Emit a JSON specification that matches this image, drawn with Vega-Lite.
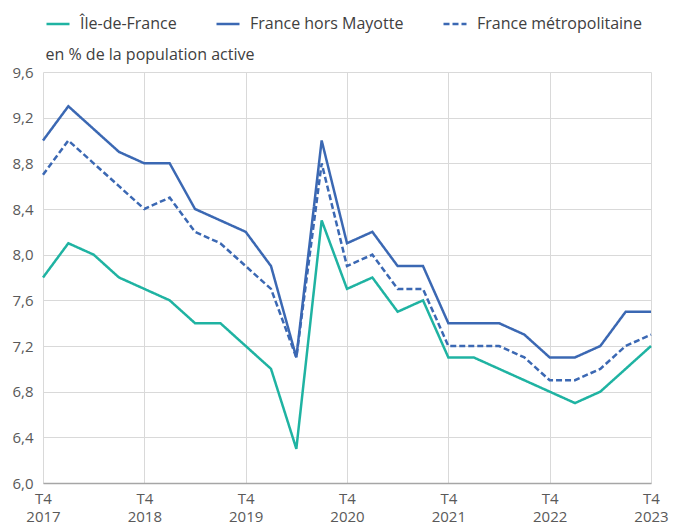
{
  "$schema": "https://vega.github.io/schema/vega-lite/v6.json",
  "width": 608,
  "height": 411,
  "autosize": {"type": "none"},
  "padding": {"left": 43, "top": 72, "right": 22, "bottom": 42},
  "background": "white",
  "config": {
    "font": "Open Sans",
    "view": {"stroke": null}
  },
  "datasets": {
    "d": [
      {"t": "T4 2017", "idf": 7.8, "fhm": 9.0, "fm": 8.7},
      {"t": "T1 2018", "idf": 8.1, "fhm": 9.3, "fm": 9.0},
      {"t": "T2 2018", "idf": 8.0, "fhm": 9.1, "fm": 8.8},
      {"t": "T3 2018", "idf": 7.8, "fhm": 8.9, "fm": 8.6},
      {"t": "T4 2018", "idf": 7.7, "fhm": 8.8, "fm": 8.4},
      {"t": "T1 2019", "idf": 7.6, "fhm": 8.8, "fm": 8.5},
      {"t": "T2 2019", "idf": 7.4, "fhm": 8.4, "fm": 8.2},
      {"t": "T3 2019", "idf": 7.4, "fhm": 8.3, "fm": 8.1},
      {"t": "T4 2019", "idf": 7.2, "fhm": 8.2, "fm": 7.9},
      {"t": "T1 2020", "idf": 7.0, "fhm": 7.9, "fm": 7.7},
      {"t": "T2 2020", "idf": 6.3, "fhm": 7.1, "fm": 7.1},
      {"t": "T3 2020", "idf": 8.3, "fhm": 9.0, "fm": 8.8},
      {"t": "T4 2020", "idf": 7.7, "fhm": 8.1, "fm": 7.9},
      {"t": "T1 2021", "idf": 7.8, "fhm": 8.2, "fm": 8.0},
      {"t": "T2 2021", "idf": 7.5, "fhm": 7.9, "fm": 7.7},
      {"t": "T3 2021", "idf": 7.6, "fhm": 7.9, "fm": 7.7},
      {"t": "T4 2021", "idf": 7.1, "fhm": 7.4, "fm": 7.2},
      {"t": "T1 2022", "idf": 7.1, "fhm": 7.4, "fm": 7.2},
      {"t": "T2 2022", "idf": 7.0, "fhm": 7.4, "fm": 7.2},
      {"t": "T3 2022", "idf": 6.9, "fhm": 7.3, "fm": 7.1},
      {"t": "T4 2022", "idf": 6.8, "fhm": 7.1, "fm": 6.9},
      {"t": "T1 2023", "idf": 6.7, "fhm": 7.1, "fm": 6.9},
      {"t": "T2 2023", "idf": 6.8, "fhm": 7.2, "fm": 7.0},
      {"t": "T3 2023", "idf": 7.0, "fhm": 7.5, "fm": 7.2},
      {"t": "T4 2023", "idf": 7.2, "fhm": 7.5, "fm": 7.3}
    ]
  },
  "data": {"name": "d"},
  "transform": [
    {"fold": ["idf", "fhm", "fm"], "as": ["k", "v"]},
    {"lookup": "k", "from": {"data": {"values": [
      {"k": "idf", "serie": "Île-de-France"},
      {"k": "fhm", "serie": "France hors Mayotte"},
      {"k": "fm", "serie": "France métropolitaine"}
    ]}, "key": "k", "fields": ["serie"]}}
  ],
  "mark": {"type": "line", "strokeWidth": 2.5, "strokeJoin": "miter"},
  "encoding": {
    "x": {
      "field": "t",
      "type": "ordinal",
      "sort": null,
      "scale": {"type": "point", "padding": 0},
      "axis": {
        "title": null,
        "values": ["T4 2017", "T4 2018", "T4 2019", "T4 2020", "T4 2021", "T4 2022", "T4 2023"],
        "labelExpr": "split(datum.value, ' ')",
        "labelAngle": 0,
        "labelFontSize": 15,
        "labelColor": "#595959",
        "labelLineHeight": 18,
        "labelPadding": 8,
        "labelBaseline": "top",
        "ticks": false,
        "grid": true,
        "gridColor": "#d9d9d9",
        "gridWidth": 1,
        "domain": true,
        "domainColor": "#a6a6a6",
        "domainWidth": 1.5
      }
    },
    "y": {
      "field": "v",
      "type": "quantitative",
      "scale": {"domain": [6, 9.6], "nice": false, "zero": false},
      "axis": {
        "values": [6, 6.4, 6.8, 7.2, 7.6, 8, 8.4, 8.8, 9.2, 9.6],
        "labelExpr": "replace(format(datum.value, '.1f'), '.', ',')",
        "labelFontSize": 15,
        "labelColor": "#595959",
        "labelPadding": 10,
        "ticks": false,
        "domain": false,
        "grid": true,
        "gridColor": "#d9d9d9",
        "gridWidth": 1,
        "title": "en % de la population active",
        "titleAngle": 0,
        "titleAlign": "left",
        "titleBaseline": "alphabetic",
        "titleX": 2,
        "titleY": -13,
        "titleFontSize": 16,
        "titleFontWeight": "normal",
        "titleColor": "#404040"
      }
    },
    "color": {
      "field": "serie",
      "type": "nominal",
      "scale": {
        "domain": ["Île-de-France", "France hors Mayotte", "France métropolitaine"],
        "range": ["#1fb3a2", "#3b68b3", "#3b68b3"]
      },
      "legend": {
        "title": null,
        "orient": "none",
        "direction": "horizontal",
        "legendX": 2,
        "legendY": -61,
        "symbolType": "stroke",
        "symbolSize": 529,
        "symbolStrokeWidth": 2.5,
        "labelFontSize": 16,
        "labelColor": "#404040",
        "labelOffset": 9,
        "labelLimit": 400,
        "columnPadding": 34
      }
    },
    "strokeDash": {
      "field": "serie",
      "type": "nominal",
      "scale": {
        "domain": ["Île-de-France", "France hors Mayotte", "France métropolitaine"],
        "range": [[1, 0], [1, 0], [6, 3]]
      },
      "legend": null
    }
  }
}
